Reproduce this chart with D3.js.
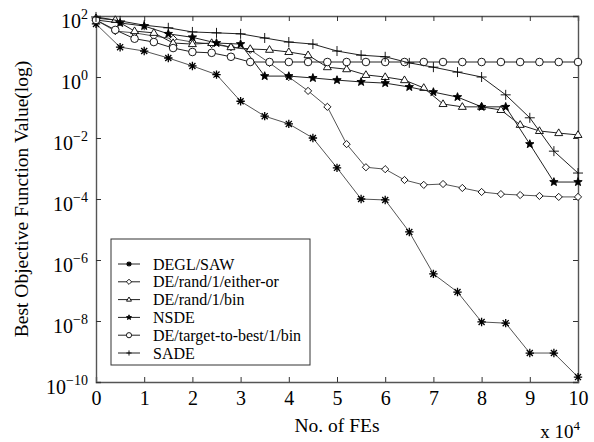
<!DOCTYPE html>
<html>
<head>
<meta charset="utf-8">
<script src="https://cdn.jsdelivr.net/npm/d3@7"></script>
<style>
  body { margin: 0; background: #fff; }
  svg text { font-family: "Liberation Serif", serif; fill: #000; }
</style>
</head>
<body>
<div id="chart"></div>
<script>
// FEs in units of 10^4
var feHalf = [0, 0.5, 1, 1.5, 2, 2.5, 3, 3.5, 4, 4.5, 5, 5.5, 6, 6.5, 7, 7.5, 8, 8.5, 9, 9.5, 10]
var feFifth = [0, 0.4, 0.8, 1.2, 1.6, 2, 2.4, 2.8, 3.2, 3.6, 4, 4.4, 4.8, 5.2, 5.6, 6, 6.4, 6.8, 7.2, 7.6, 8, 8.4, 8.8, 9.2, 9.6, 10]

var deglSaw = [55, 9.5, 7.1, 4.2, 2.3, 1.2, 0.16, 0.052, 0.029, 0.01, 1.05e-3, 1e-4, 9.3e-5, 8.3e-6, 3.5e-7, 8.9e-8, 9.3e-9, 8.5e-9, 8.9e-10, 8.9e-10, 1.45e-10]
var deEitherOr = [74, 32, 28, 22, 18, 14, 12, 9.5, 7.8, 2.9, 1.0, 0.35, 0.105, 6.3e-3, 1.1e-3, 9.5e-4, 4.2e-4, 2.9e-4, 3.1e-4, 2.3e-4, 1.7e-4, 1.45e-4, 1.35e-4, 1.26e-4, 1.17e-4, 1.17e-4]
var deRandBin = [85, 74, 32, 28, 13, 12, 13, 9.5, 8.3, 7.8, 6.6, 5.2, 2.1, 1.8, 1.17, 1.0, 0.79, 0.44, 0.13, 0.105, 0.105, 0.083, 0.027, 0.017, 0.0145, 0.0126]
var nsde = [74, 59, 47, 26, 20, 13, 12, 1.07, 1.07, 0.93, 0.79, 0.69, 0.63, 0.47, 0.32, 0.22, 0.105, 0.105, 6.3e-3, 3.6e-4, 3.6e-4]
var deTargetBest = [74, 35, 18, 14, 8.9, 6.6, 6.2, 4.6, 3.1, 3.1, 3.1, 3.1, 3.1, 3.1, 3.1, 3.1, 3.1, 3.1, 3.1, 3.1, 3.1, 3.1, 3.1, 3.1, 3.1, 3.1]
var sade = [93, 69, 50, 41, 30, 28, 26, 19, 14, 12, 7.1, 5.2, 4.6, 2.9, 2.1, 1.45, 1.0, 0.26, 0.046, 3.7e-3, 7.1e-4]

var seriesNames = ["DEGL/SAW", "DE/rand/1/either-or", "DE/rand/1/bin", "NSDE", "DE/target-to-best/1/bin", "SADE"]
var seriesMarkers = ["asterisk", "diamond", "triangle", "star", "circle", "plus"]
var seriesX = [feHalf, feFifth, feFifth, feHalf, feFifth, feHalf]
var seriesY = [deglSaw, deEitherOr, deRandBin, nsde, deTargetBest, sade]

var xTicks = [0, 1, 2, 3, 4, 5, 6, 7, 8, 9, 10]
var yTicks = [1e2, 1e0, 1e-2, 1e-4, 1e-6, 1e-8, 1e-10]
var yTickExp = ["2", "0", "\u22122", "\u22124", "\u22126", "\u22128", "\u221210"]

;(function() {
  var serif = "Liberation Serif"
  var margin = { top: 16, left: 96, right: 16, bottom: 60 }
  var widthSvg = 594
  var heightSvg = 442
  var widthScale = widthSvg - margin.left - margin.right
  var heightScale = heightSvg - margin.top - margin.bottom

  var mainSvg = d3.select("#chart").append("svg")
    .attr("width", widthSvg)
    .attr("height", heightSvg)
    .attr("font-family", serif)

  var mainG = mainSvg.append("g")
    .attr("transform", "translate(" + margin.left + "," + margin.top + ")")

  var xPositionScale = d3.scaleLinear().domain([0, 10]).range([0, widthScale])
  var yPositionScale = d3.scaleLog().domain([1e-10, 1e2]).range([heightScale, 0])

  function markerPath(type, r) {
    if (type === "asterisk") {
      var d = r * 0.72
      return "M" + (-r) + ",0L" + r + ",0M0," + (-r) + "L0," + r +
        "M" + (-d) + "," + (-d) + "L" + d + "," + d + "M" + (-d) + "," + d + "L" + d + "," + (-d)
    }
    if (type === "plus") return "M" + (-r) + ",0L" + r + ",0M0," + (-r) + "L0," + r
    if (type === "diamond") return "M0," + (-r) + "L" + r + ",0L0," + r + "L" + (-r) + ",0Z"
    if (type === "triangle") return "M0," + (-r) + "L" + (r * 0.95) + "," + (r * 0.6) + "L" + (-r * 0.95) + "," + (r * 0.6) + "Z"
    if (type === "star") {
      var p = []
      for (var i = 0; i < 10; i++) {
        var rr = i % 2 === 0 ? r : r * 0.42
        var a = -Math.PI / 2 + i * Math.PI / 5
        p.push((rr * Math.cos(a)).toFixed(2) + "," + (rr * Math.sin(a)).toFixed(2))
      }
      return "M" + p.join("L") + "Z"
    }
    if (type === "circle") {
      return "M" + r + ",0A" + r + "," + r + " 0 1,1 " + (-r) + ",0A" + r + "," + r + " 0 1,1 " + r + ",0Z"
    }
  }

  function drawMarker(g, type, r) {
    var filled = type === "star"
    var open = type === "diamond" || type === "triangle" || type === "circle"
    g.append("path")
      .attr("d", markerPath(type, r))
      .attr("fill", filled ? "#000" : (open ? "#fff" : "none"))
      .attr("stroke", "#000")
      .attr("stroke-width", type === "asterisk" ? 1.3 : 0.9)
  }

  var markerSize = { asterisk: 4.2, diamond: 3.6, triangle: 4.2, star: 4.4, circle: 3.8, plus: 5 }

  // frame and axes
  var xAxis = d3.axisBottom(xPositionScale).tickValues(xTicks).tickSize(-5).tickPadding(9)
    .tickFormat(d3.format("d"))
  var gx = mainG.append("g").attr("class", "axis x-axis")
    .attr("transform", "translate(0," + heightScale + ")")
    .call(xAxis)
  gx.attr("font-family", serif)
  gx.selectAll("text").attr("font-size", "20px")

  var yAxis = d3.axisLeft(yPositionScale).tickValues(yTicks).tickSize(-5).tickPadding(8)
    .tickFormat(function() { return "" })
  var gy = mainG.append("g").attr("class", "axis y-axis").call(yAxis)
  gy.attr("font-family", serif)
  gy.selectAll("text")
    .attr("font-size", "20px")
    .attr("dy", "11")
    .each(function(d, i) {
      var t = d3.select(this)
      t.append("tspan").text("10")
      t.append("tspan").attr("dy", "-9").attr("font-size", "14px").text(yTickExp[i])
    })

  mainG.append("g").call(d3.axisTop(xPositionScale).tickValues(xTicks).tickSize(-5).tickFormat(""))
  mainG.append("g").attr("transform", "translate(" + widthScale + ",0)")
    .call(d3.axisRight(yPositionScale).tickValues(yTicks).tickSize(-5).tickFormat(""))

  mainG.selectAll(".domain").attr("stroke", "#555").attr("stroke-width", 1.4)
  mainG.selectAll(".tick line").attr("stroke", "#333")

  // series lines
  var line = d3.line()
    .x(function(d) { return xPositionScale(d[0]) })
    .y(function(d) { return yPositionScale(d[1]) })

  seriesNames.forEach(function(name, s) {
    var pts = seriesX[s].map(function(x, i) { return [x, seriesY[s][i]] })
    mainG.append("path")
      .datum(pts)
      .attr("d", line)
      .attr("fill", "none")
      .attr("stroke", s === 0 || s === 1 ? "#555" : "#222")
      .attr("stroke-width", 1)
    var mg = mainG.append("g")
    pts.forEach(function(p) {
      var g = mg.append("g")
        .attr("transform", "translate(" + xPositionScale(p[0]) + "," + yPositionScale(p[1]) + ")")
      drawMarker(g, seriesMarkers[s], markerSize[seriesMarkers[s]])
    })
  })

  // legend
  var legend = mainG.append("g").attr("transform", "translate(15,223)")
  legend.append("rect")
    .attr("width", 199).attr("height", 126)
    .attr("fill", "#fff").attr("stroke", "#333").attr("stroke-width", 1)
  seriesNames.forEach(function(name, s) {
    var row = legend.append("g").attr("transform", "translate(0," + (25 + s * 17.8) + ")")
    row.append("line").attr("x1", 7).attr("x2", 29).attr("stroke", "#222").attr("stroke-width", 1)
    drawMarker(row.append("g").attr("transform", "translate(18,0)"), seriesMarkers[s], 2.6)
    row.append("text").attr("x", 42).attr("dy", "0.35em").attr("font-size", "16px")
      .attr("font-family", serif).text(name)
  })

  // axis titles
  mainSvg.append("text")
    .attr("transform", "translate(28," + (margin.top + heightScale / 2) + ") rotate(-90)")
    .attr("text-anchor", "middle")
    .attr("font-size", "19.5px")
    .attr("font-family", serif)
    .text("Best Objective Function Value(log)")

  mainSvg.append("text")
    .attr("x", margin.left + widthScale / 2)
    .attr("y", 432)
    .attr("text-anchor", "middle")
    .attr("font-size", "19.5px")
    .attr("font-family", serif)
    .text("No. of FEs")

  var xl = mainSvg.append("text")
    .attr("x", 580)
    .attr("y", 438)
    .attr("text-anchor", "end")
    .attr("font-size", "19px")
    .attr("font-family", serif)
  xl.append("tspan").text("x 10")
  xl.append("tspan").attr("dy", "-8").attr("font-size", "13px").text("4")
})();
</script>
</body>
</html>
